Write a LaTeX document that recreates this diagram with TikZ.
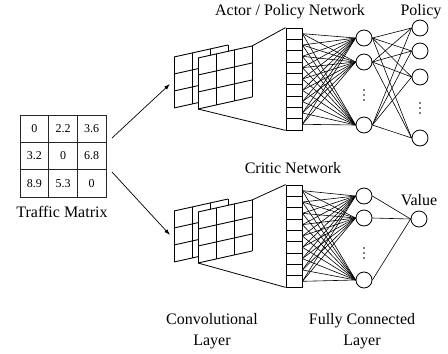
\documentclass[tikz,border=0pt]{standalone}
\usepackage{fontspec}
\setmainfont{Liberation Serif}
\usetikzlibrary{arrows.meta}
\tikzset{cell/.style={draw=black!85,line width=0.8pt,minimum width=28.7pt,minimum height=27.3pt,inner sep=0pt,font=\fontsize{12}{14}\selectfont}}
\tikzset{slot/.style={draw=black,line width=0.8pt,fill=white,minimum width=16pt,minimum height=11.33pt,inner sep=0pt}}
\tikzset{unit/.style={circle,draw=black,line width=0.8pt,fill=white,minimum size=16pt,inner sep=0pt}}
\tikzset{lbl/.style={font=\fontsize{16}{21}\selectfont,align=center}}
\tikzset{wire/.style={line width=0.6pt}}
\newcommand{\featmap}[2]{% top-left corner at (#1,#2)
  \fill[white] (#1,#2) -- ++(54,-12) -- ++(0,51) -- ++(-54,12) -- cycle;
  \foreach \u in {0,18,36,54} \draw[line width=0.9pt] ({#1+\u},{#2-\u*12/54}) -- ++(0,51);
  \foreach \v in {0,17,34,51} \draw[line width=0.9pt] (#1,{#2+\v}) -- ++(54,-12);
}
\newcommand{\vdotsat}[1]{% three dots round a named coordinate
  \foreach \d in {-5,0,5} \fill ([yshift=\d pt]#1) circle (0.9pt);
}

\begin{document}
\begin{tikzpicture}[x=1pt,y=-1pt]
\useasboundingbox (0,0) rectangle (448,354);
% traffic matrix
\foreach \r/\c/\t in {1/1/0,1/2/2.2,1/3/3.6,2/1/3.2,2/2/0,2/3/6.8,3/1/8.9,3/2/5.3,3/3/0}
  \node (m\r\c) [cell] at ({20+28.67*(\c-0.5)},{115+27.33*(\r-0.5)}) {\t};
\node (tm) [lbl] at (62,212) {Traffic Matrix};
%
\coordinate (s1) at (112,138); \coordinate (t1) at (170,84);
\coordinate (s2) at (112,172); \coordinate (t2) at (170,235);
\draw[-{Latex[length=6pt,width=4pt]},line width=0.7pt] (s1) -- (t1);
\draw[-{Latex[length=6pt,width=4pt]},line width=0.7pt] (s2) -- (t2);
% conv layers
\featmap{174}{57} \featmap{198}{58}
\featmap{174}{211} \featmap{198}{212}
\coordinate (ka) at (252,46); \coordinate (kb) at (198,109);
\coordinate (kc) at (252,200); \coordinate (kd) at (198,263);
% flattened layers
\foreach \k in {1,...,9} {
  \node (p\k) [slot] at (294,{28+11.33*(\k-0.5)}) {};
  \node (q\k) [slot] at (294,{185+11.33*(\k-0.5)}) {};
}
\draw[line width=0.8pt] (ka) -- (p1.north west);
\draw[line width=0.8pt] (kb) -- (p9.south west);
\draw[line width=0.8pt] (kc) -- (q1.north west);
\draw[line width=0.8pt] (kd) -- (q9.south west);
% actor
\node (h1) [unit] at (364,38) {};
\node (h2) [unit] at (364,62) {};
\node (h3) [unit] at (364,125) {};
\coordinate (hd) at (364,95); \vdotsat{hd}
\node (o1) [unit] at (420,28) {};
\node (o2) [unit] at (420,51) {};
\node (o3) [unit] at (420,77) {};
\node (o4) [unit] at (420,138) {};
\coordinate (od) at (420,108); \vdotsat{od}
\foreach \k in {1,...,9} \foreach \j in {1,2,3} \draw[wire] (p\k.east) -- (h\j.west);
\foreach \j in {1,2,3} \foreach \k in {1,...,4} \draw[wire] (h\j.east) -- (o\k.west);
% critic
\node (g1) [unit] at (364,196) {};
\node (g2) [unit] at (364,218) {};
\node (g3) [unit] at (364,280) {};
\coordinate (gd) at (364,253); \vdotsat{gd}
\node (v) [unit] at (419,219) {};
\foreach \k in {1,...,9} \foreach \j in {1,2,3} \draw[wire] (q\k.east) -- (g\j.west);
\foreach \j in {1,2,3} \draw[wire] (g\j.east) -- (v.west);
% labels
\node (actor) [lbl] at (290,12) {Actor / Policy Network};
\node (pol) [lbl] at (421,12) {Policy};
\node (critic) [lbl] at (293,168) {Critic Network};
\node (val) [lbl] at (419,200) {Value};
\node (conv) [lbl] at (212,331) {Convolutional\\Layer};
\node (full) [lbl] at (362,331) {Fully Connected\\Layer};
\end{tikzpicture}
\end{document}
